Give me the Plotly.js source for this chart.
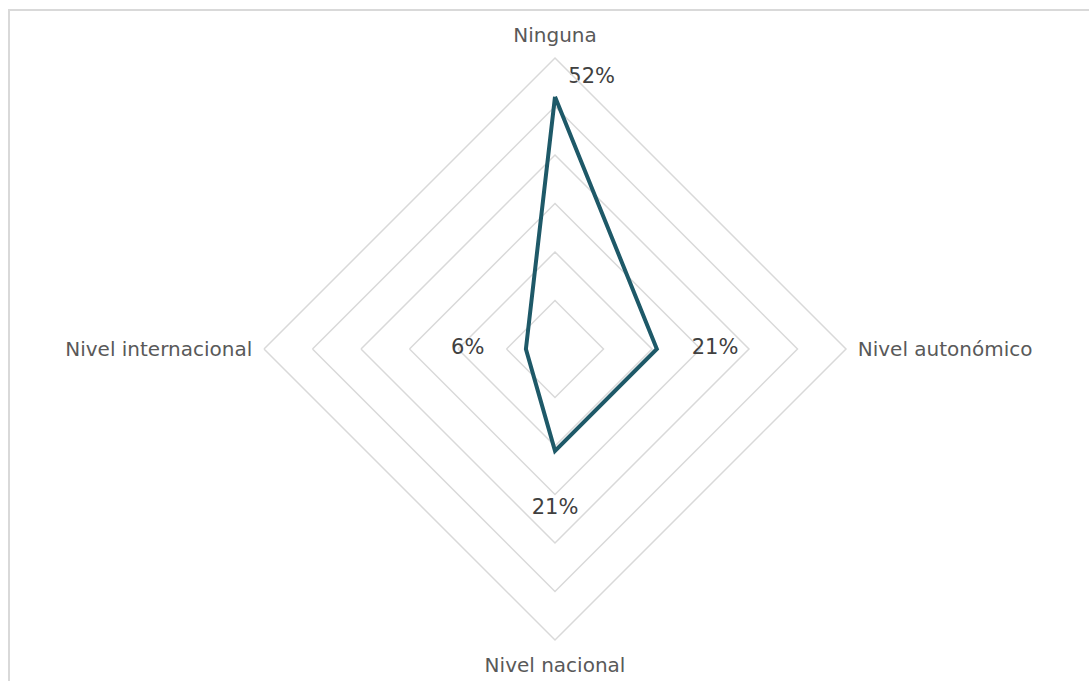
<!DOCTYPE html>
<html>
<head>
<meta charset="utf-8">
<script src="https://cdn.plot.ly/plotly-3.0.1.min.js"></script>
<style>
html,body{margin:0;padding:0;background:#fff;}
#frame{position:absolute;left:8px;top:9px;width:1200px;height:800px;border-left:2px solid #d9d9d9;border-top:2px solid #d9d9d9;}
#chart{position:absolute;left:0;top:0;width:1089px;height:681px;}
</style>
</head>
<body>
<div id="frame"></div>
<div id="chart"></div>
<script>
const categories = ["Ninguna", "Nivel autonómico", "Nivel nacional", "Nivel internacional"];
const values = [52, 21, 21, 6];
const valueLabels = ["52%", "21%", "21%", "6%"];

const labelOffset = 12;
const labelR = values.map((v, i) => i === 0 ? v + 4 : v + labelOffset);
const labelPos = ["middle right", "middle center", "middle center", "middle center"];
const labelText = valueLabels.map((t, i) => i === 0 ? "  " + t : t);

const data = [
  {
    type: "scatterpolar",
    mode: "lines",
    r: values.concat(values[0]),
    theta: categories.concat(categories[0]),
    line: {color: "#1e5968", width: 4},
    hoverinfo: "skip",
    showlegend: false
  },
  {
    type: "scatterpolar",
    mode: "text",
    r: labelR,
    theta: categories,
    text: labelText,
    textposition: labelPos,
    textfont: {family: "DejaVu Sans, Verdana, sans-serif", size: 21, color: "#404040"},
    cliponaxis: false,
    hoverinfo: "skip",
    showlegend: false
  }
];

const layout = {
  width: 1089,
  height: 681,
  margin: {l: 21, r: 0, t: 58, b: 41},
  paper_bgcolor: "rgba(0,0,0,0)",
  plot_bgcolor: "rgba(0,0,0,0)",
  font: {family: "DejaVu Sans, Verdana, sans-serif", size: 20, color: "#595959"},
  showlegend: false,
  polar: {
    bgcolor: "rgba(0,0,0,0)",
    gridshape: "linear",
    radialaxis: {
      range: [0, 60],
      dtick: 10,
      tick0: 0,
      showticklabels: false,
      ticks: "",
      showline: false,
      gridcolor: "#d9d9d9",
      gridwidth: 1.5
    },
    angularaxis: {
      type: "category",
      categoryarray: categories,
      rotation: 90,
      direction: "clockwise",
      showgrid: false,
      showline: true,
      linecolor: "#d9d9d9",
      linewidth: 1.5,
      ticks: "outside",
      ticklen: 7,
      tickcolor: "rgba(0,0,0,0)",
      tickfont: {family: "DejaVu Sans, Verdana, sans-serif", size: 20, color: "#595959"}
    }
  }
};

Plotly.newPlot("chart", data, layout, {displayModeBar: false, staticPlot: true});
</script>
</body>
</html>
